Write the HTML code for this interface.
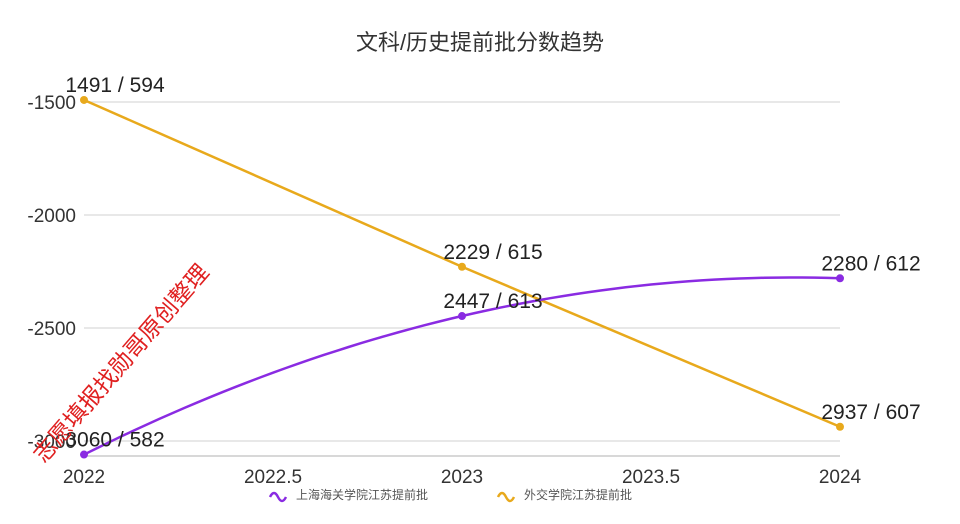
<!DOCTYPE html>
<html><head><meta charset="utf-8"><style>
body{margin:0;background:#fff;width:960px;height:524px;overflow:hidden;font-family:"Liberation Sans","Noto Sans CJK SC",sans-serif}
</style></head><body>
<svg id="c" width="960" height="524" style="position:absolute;left:0;top:0"></svg>
<script>
const years=[2022,2023,2024];
const seriesNames=["上海海关学院江苏提前批","外交学院江苏提前批"];
const seriesA=[-3060,-2447,-2280];
const seriesB=[-1491,-2229,-2937];
const labelsA=["3060 / 582","2447 / 613","2280 / 612"];
const labelsB=["1491 / 594","2229 / 615","2937 / 607"];
const yTicks=[-1500,-2000,-2500,-3000];
const xTicks=[2022,2022.5,2023,2023.5,2024];
const colors=["#8a2be2","#e8a91c"];
const NS="http://www.w3.org/2000/svg";
const svg=document.getElementById('c');
const X=v=>84+(v-2022)*378;
const Y=v=>102+(v+1500)*(-113/500);
function el(t,a,txt){const e=document.createElementNS(NS,t);for(const k in a)e.setAttribute(k,a[k]);if(txt!=null)e.textContent=txt;svg.appendChild(e);return e;}
let t=el('text',{x:480,y:50,'text-anchor':'middle','font-size':22,fill:'#333'},'文科/历史提前批分数趋势');

yTicks.forEach(v=>{
 let g=el('line',{x1:84,x2:840,y1:Y(v),y2:Y(v),stroke:'#e0e0e0','stroke-width':1.5});
 
 let l=el('text',{x:76,y:Y(v)+7,'text-anchor':'end','font-size':19,fill:'#333'},String(v));
 
});
let ax=el('line',{x1:84,x2:840,y1:456,y2:456,stroke:'#ccc','stroke-width':1.5});

xTicks.forEach(v=>{
 let l=el('text',{x:X(v),y:483,'text-anchor':'middle','font-size':19,fill:'#333'},String(v));
 
});
function lagrange(xs,ys,x){let s=0;for(let i=0;i<xs.length;i++){let p=ys[i];for(let j=0;j<xs.length;j++)if(j!==i)p*=(x-xs[j])/(xs[i]-xs[j]);s+=p;}return s;}
function series(vals,labs,col,name,smoothIt){
 const pts=years.map((y,i)=>[X(y),Y(vals[i])]);
 let d;
 if(smoothIt){d='';const n=60;for(let k=0;k<=n;k++){const yr=years[0]+(years[years.length-1]-years[0])*k/n;d+=(k?' L':'M')+X(yr)+','+Y(lagrange(years,vals,yr));}}
 else d='M'+pts.map(q=>q.join(',')).join(' L');
 let p=el('path',{d:d,fill:'none',stroke:col,'stroke-width':2.5});
 
 pts.forEach((q,i)=>{
  let c=el('circle',{cx:q[0],cy:q[1],r:4,fill:col});
  
  let l=el('text',{x:q[0]+31,y:q[1]-8,'text-anchor':'middle','font-size':21,fill:'#222'},labs[i]);
  
 });
}
series(seriesB,labelsB,colors[1],'waijiao',false);
series(seriesA,labelsA,colors[0],'shanghai-customs',true);
[[270,0],[498,1]].forEach(([x,i])=>{
 let ic=el('path',{d:`M${x},${497} q4,-8 8,0 t8,0`,fill:'none',stroke:colors[i],'stroke-width':2.5});
 
 let l=el('text',{x:x+26,y:499,'font-size':12,fill:'#555'},seriesNames[i]);
 
});
let w=el('text',{x:0,y:0,'font-size':23,fill:'#e02020',transform:'translate(44,464) rotate(-49)'},'志愿填报找勋哥原创整理');

</script>
</body></html>
